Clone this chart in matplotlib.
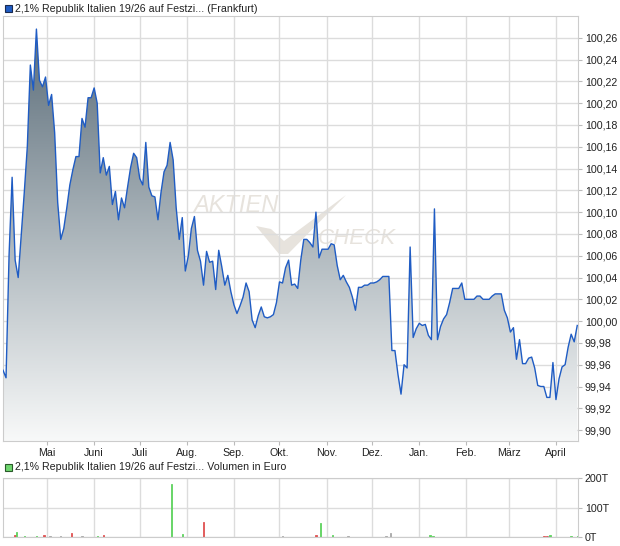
import numpy as np
import pandas as pd
import matplotlib
matplotlib.use("Agg")
import matplotlib.pyplot as plt
import matplotlib.dates as mdates
from matplotlib.colors import LinearSegmentedColormap
from matplotlib.patches import Rectangle, Polygon
from matplotlib.ticker import FuncFormatter

plt.rcParams["font.family"] = ["Liberation Sans", "DejaVu Sans"]

# price every second day, starting 2024-04-02
start = "2024-04-02"
prices = [
    99.955, 99.948, 100.061, 100.132, 100.056, 100.040, 100.079, 100.118, 100.160, 100.235,
    100.212, 100.268, 100.221, 100.215, 100.224, 100.198, 100.208, 100.173, 100.109, 100.075,
    100.085, 100.104, 100.125, 100.139, 100.151, 100.151, 100.186, 100.178, 100.205, 100.205,
    100.214, 100.200, 100.136, 100.150, 100.134, 100.142, 100.107, 100.119, 100.093, 100.113,
    100.104, 100.123, 100.141, 100.154, 100.150, 100.131, 100.125, 100.164, 100.123, 100.115,
    100.114, 100.093, 100.118, 100.137, 100.143, 100.164, 100.148, 100.104, 100.075, 100.095,
    100.046, 100.060, 100.085, 100.096, 100.065, 100.055, 100.033, 100.064, 100.054, 100.055,
    100.029, 100.065, 100.050, 100.033, 100.042, 100.027, 100.015, 100.007, 100.014, 100.022,
    100.035, 100.027, 100.001, 99.994, 100.005, 100.013, 100.004, 100.003, 100.004, 100.006,
    100.017, 100.036, 100.035, 100.049, 100.056, 100.033, 100.034, 100.030, 100.056, 100.075,
    100.075, 100.072, 100.068, 100.100, 100.058, 100.066, 100.066, 100.066, 100.071, 100.070,
    100.051, 100.038, 100.042, 100.036, 100.031, 100.022, 100.010, 100.031, 100.031, 100.033,
    100.033, 100.035, 100.035, 100.036, 100.038, 100.041, 100.041, 100.041, 99.973, 99.973,
    99.951, 99.933, 99.960, 99.957, 100.068, 99.985, 99.993, 99.998, 99.996, 99.997,
    99.987, 99.983, 100.103, 99.983, 99.995, 100.002, 100.006, 100.017, 100.030, 100.030,
    100.030, 100.035, 100.020, 100.020, 100.020, 100.020, 100.023, 100.023, 100.020, 100.020,
    100.020, 100.023, 100.025, 100.025, 100.025, 100.010, 100.003, 99.990, 99.994, 99.965,
    99.983, 99.961, 99.961, 99.966, 99.967, 99.957, 99.941, 99.940, 99.940, 99.930,
    99.930, 99.962, 99.928, 99.947, 99.958, 99.960, 99.976, 99.988, 99.981, 99.996,
]
dates = pd.date_range(start, periods=len(prices), freq="2D")

# volume in thousand euro
vol_dates = [
    "2024-04-10", "2024-04-11", "2024-04-16", "2024-04-24", "2024-04-29", "2024-05-03",
    "2024-05-10", "2024-05-17", "2024-05-24", "2024-06-03", "2024-06-07", "2024-06-20",
    "2024-07-19", "2024-07-22", "2024-07-29", "2024-08-12", "2024-09-03", "2024-10-03",
    "2024-10-25", "2024-10-28", "2024-11-05", "2024-11-12", "2024-11-15", "2024-12-10",
    "2024-12-13", "2024-12-24", "2025-01-08", "2025-01-10", "2025-03-20", "2025-03-24",
    "2025-03-26", "2025-03-27", "2025-03-28", "2025-04-05", "2025-04-11", "2025-04-15",
]
vol_values = [
    6, 18, 3, 3, 7, 3,
    3, 13, 3, 4, 7, 1,
    1, 180, 10, 52, 1, 2,
    7, 49, 7, 1, 2, 3,
    14, 1, 8, 5, 1, 2,
    3, 3, 7, 1, 3, 5,
]
vol_dir = [
    "down", "up", "up", "up", "down", "flat",
    "flat", "down", "flat", "up", "down", "down",
    "down", "up", "up", "down", "down", "flat",
    "down", "up", "up", "flat", "flat", "flat",
    "flat", "up", "up", "up", "down", "down",
    "down", "flat", "up", "up", "up", "up",
]

month_labels = ["Mai", "Juni", "Juli", "Aug.", "Sep.", "Okt.", "Nov.", "Dez.",
                "Jan.", "Feb.", "März", "April"]
month_ticks = pd.date_range("2024-05-01", periods=len(month_labels), freq="MS")
price_ticks = np.arange(99.90, 100.27, 0.02)

line_blue = "#1f5cc4"
grid_col = "#dcdcdc"
colors = {"up": "#5fd35f", "down": "#e05252", "flat": "#a8a8a8"}

W, H = 620, 546
fig = plt.figure(figsize=(W / 100, H / 100), dpi=100)
ax = fig.add_axes([3 / W, 1 - 441 / H, 575 / W, 425 / H])
axv = fig.add_axes([3 / W, 1 - 537 / H, 575 / W, 59 / H])

x0 = pd.Timestamp(start)
x1 = x0 + pd.Timedelta(days=378.5)
y0, y1 = 99.89, 100.28

# gradient area under the price line
cmap = LinearSegmentedColormap.from_list("area", ["#f8f9f9", "#a9b3b9", "#566875"])
grad = np.linspace(0, 1, 256).reshape(-1, 1)
im = ax.imshow(grad, aspect="auto", cmap=cmap, origin="lower",
               extent=[mdates.date2num(x0), mdates.date2num(x1), y0, y1], zorder=1)
poly = ax.fill_between(dates, prices, y0, color="none", lw=0)
im.set_clip_path(poly.get_paths()[0], transform=ax.transData)
ax.plot(dates, prices, color=line_blue, lw=1.0, zorder=3)

ax.set_xlim(x0, x1)
ax.set_ylim(y0, y1)
ax.set_axisbelow(True)
ax.grid(True, color=grid_col, lw=1)
ax.set_xticks(month_ticks)
ax.set_xticklabels(month_labels)
ax.set_yticks(price_ticks)
ax.yaxis.set_major_formatter(FuncFormatter(lambda v, p: f"{v:.2f}".replace(".", ",")))
ax.yaxis.tick_right()
ax.tick_params(axis="both", labelsize=7.7, colors="#bbbbbb", labelcolor="#222222", length=3, pad=2)
for s in ax.spines.values():
    s.set_color("#cccccc")

# watermark
wm = "#e7e3dd"
ax.text(193 / W, 1 - 205 / H, "AKTIEN", transform=fig.transFigure, fontsize=17,
        style="italic", color=wm, va="center", ha="left", zorder=0.4)
ax.text(318 / W, 1 - 239 / H, "CHECK", transform=fig.transFigure, fontsize=16,
        style="italic", color=wm, va="center", ha="left", zorder=0.4)
chk = [(256, 226), (271, 229), (284, 241), (346, 195), (288, 254), (279, 254)]
ax.add_patch(Polygon([(x / W, 1 - y / H) for x, y in chk], closed=True,
                     transform=fig.transFigure, color=wm, lw=0, zorder=0.4))

# volume panel
vdates = pd.to_datetime(vol_dates)
vcols = [colors[d] for d in vol_dir]
axv.bar(vdates, vol_values, width=0.9, color=vcols, edgecolor=vcols, lw=0.6, zorder=2)
axv.set_xlim(x0, x1)
axv.set_ylim(0, 200)
axv.set_axisbelow(True)
axv.grid(True, color=grid_col, lw=1)
axv.set_xticks(month_ticks)
axv.set_xticklabels([])
axv.set_yticks([0, 100, 200])
axv.yaxis.set_major_formatter(FuncFormatter(lambda v, p: f"{v:.0f}T"))
axv.yaxis.tick_right()
axv.tick_params(axis="both", labelsize=7.7, colors="#bbbbbb", labelcolor="#222222", length=3, pad=2)
axv.tick_params(axis="x", length=0)
for s in axv.spines.values():
    s.set_color("#cccccc")

# headers
fig.patches.append(Rectangle((5 / W, 1 - 12 / H), 7 / W, 7 / H, transform=fig.transFigure,
                             facecolor="#1f5cc4", edgecolor="#1a2a50", lw=0.8))
fig.text(15 / W, 1 - 8.5 / H, "2,1% Republik Italien 19/26 auf Festzi... (Frankfurt)",
         fontsize=7.7, va="center", ha="left", color="#222222")
fig.patches.append(Rectangle((5 / W, 1 - 471 / H), 7 / W, 7 / H, transform=fig.transFigure,
                             facecolor="#6fd66f", edgecolor="#2a5a2a", lw=0.8))
fig.text(15 / W, 1 - 467.5 / H, "2,1% Republik Italien 19/26 auf Festzi... Volumen in Euro",
         fontsize=7.7, va="center", ha="left", color="#222222")

fig.savefig("out.png", dpi=100)
